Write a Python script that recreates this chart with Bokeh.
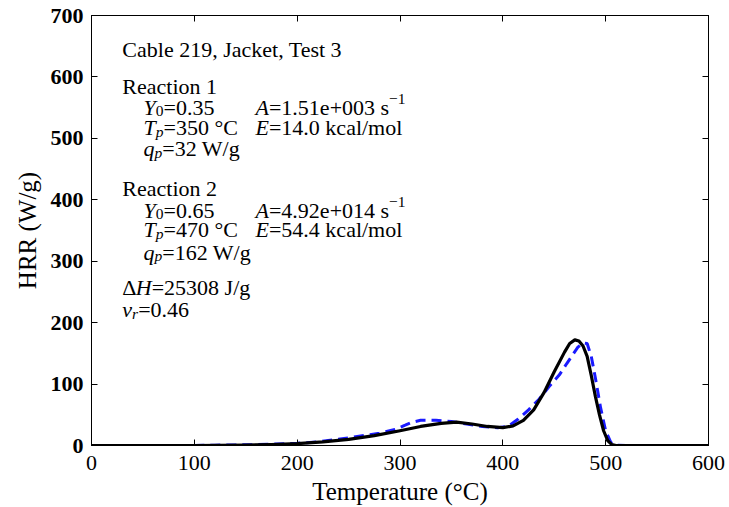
from bokeh.plotting import figure
from bokeh.models import Range1d, FixedTicker, LinearAxis, ColumnDataSource
from bokeh.embed import file_html
from bokeh.resources import INLINE
from bokeh.core.properties import value

# ---------------- data ----------------
model_temp = [0, 50, 100, 125, 150, 175, 200, 225, 250, 275, 300, 320, 340, 355, 370, 385,
              400, 410, 420, 430, 440, 450, 460, 465, 470, 474, 478, 482, 486, 490, 494,
              498, 502, 506, 510, 520, 550, 600]
model_hrr = [0, 0, 0, 0.2, 0.6, 1.5, 3, 6, 10, 16, 24, 31, 36, 38, 35, 31,
             29, 32, 41, 58, 86, 120, 152, 166, 172, 170, 162, 145, 114, 80, 50,
             24, 8, 1.5, 0, 0, 0, 0]

exp_temp = [100, 120, 140, 160, 180, 200, 220, 240, 260, 280, 295, 305, 312, 320, 335,
            350, 365, 380, 395, 405, 415, 425, 435, 445, 455, 462, 468, 473, 478, 482,
            486, 490, 495, 500, 505, 510, 520, 540, 560, 580, 600]
exp_hrr = [0, 0.5, 1, 1.5, 2.5, 3.5, 6, 10, 15, 20, 26, 33, 38, 41, 41,
           39, 35, 31, 29, 31, 43, 58, 75, 96, 115, 133, 148, 160, 167, 166,
           145, 110, 62, 24, 5, 0.5, 0, 0, 0, 0, 0]

x_ticks = [0, 100, 200, 300, 400, 500, 600]
y_ticks = [0, 100, 200, 300, 400, 500, 600, 700]

# ---------------- figure ----------------
FONT = "Liberation Serif"
p = figure(width=729, height=507, output_backend="svg", toolbar_location=None,
           x_range=Range1d(0, 600), y_range=Range1d(0, 700),
           min_border_left=91, min_border_right=21, min_border_top=15, min_border_bottom=61,
           x_axis_label="Temperature (°C)", y_axis_label="HRR (W/g)")
p.grid.visible = False
p.background_fill_color = "white"
p.border_fill_color = "white"
p.outline_line_color = "black"
p.outline_line_width = 1

for ax, ticks in ((p.xaxis[0], x_ticks), (p.yaxis[0], y_ticks)):
    ax.ticker = FixedTicker(ticks=ticks)
    ax.major_tick_in = 6
    ax.major_tick_out = 0
    ax.minor_tick_in = 0
    ax.minor_tick_out = 0
    ax.axis_line_color = "black"
    ax.major_tick_line_color = "black"
    ax.major_label_text_font = FONT
    ax.major_label_text_color = "black"
    ax.major_label_text_font_size = "22px"
    ax.axis_label_text_font = FONT
    ax.axis_label_text_font_size = "25px"
    ax.axis_label_text_font_style = "normal"
    ax.axis_label_text_color = "black"

p.yaxis[0].major_label_text_font_style = "bold"
p.yaxis[0].major_label_standoff = 8
p.yaxis[0].axis_label_standoff = 7
p.xaxis[0].major_label_standoff = 10
p.xaxis[0].axis_label_standoff = 5

for ticks, loc in ((x_ticks, "above"), (y_ticks, "right")):
    ax = LinearAxis(ticker=FixedTicker(ticks=ticks),
                    major_label_overrides={t: "" for t in ticks},
                    major_label_text_font_size="0px", major_label_standoff=0,
                    major_tick_in=6, major_tick_out=0, minor_tick_in=0, minor_tick_out=0,
                    axis_line_color="black", major_tick_line_color="black")
    p.add_layout(ax, loc)

# ---------------- curves ----------------
p.line(exp_temp, exp_hrr, line_color="#1a1aff", line_width=3, line_dash="10 6")
p.line(model_temp, model_hrr, line_color="black", line_width=3.2, line_join="round")

# ---------------- annotation text ----------------
FS, SS = 22, 15.5
XPX, YPX = 617 / 600, 431 / 700
REG = {' ': 250, '.': 250, ',': 250, '=': 564, '+': 564, '−': 564, '/': 278, '°': 400,
       'C': 667, 'W': 944, 'J': 389, 'R': 667, 'T': 611, 'a': 444, 'b': 500, 'c': 444,
       'e': 444, 'g': 500, 'i': 278, 'k': 500, 'l': 278, 'm': 778, 'n': 500, 'o': 500,
       's': 389, 't': 278, 'Δ': 612}
ITA = {'Y': 556, 'T': 556, 'q': 500, 'p': 500, 'A': 611, 'E': 611, 'H': 722, 'ν': 444,
       'r': 389}


def tw(s, size, italic):
    table = ITA if italic else REG
    return sum(table.get(c, 500) for c in s) * size / 1000.0


kinds = {'n': (FS, 'normal', 0), 'i': (FS, 'italic', 0), 'b': (SS, 'normal', -4),
         'bi': (SS, 'italic', -4), 'u': (SS, 'normal', 8)}

C0, C1, C2 = 30, 50.6, 159.5
rows = [
    (C0, 645, [("Cable 219, Jacket, Test 3", 'n')]),
    (C0, 585, [("Reaction 1", 'n')]),
    (C1, 551, [("Y", 'i'), ("0", 'b'), ("=0.35", 'n')]),
    (C2, 551, [("A", 'i'), ("=1.51e+003 s", 'n'), ("−1", 'u')]),
    (C1, 518, [("T", 'i'), ("p", 'bi'), ("=350 °C", 'n')]),
    (C2, 518, [("E", 'i'), ("=14.0 kcal/mol", 'n')]),
    (C1, 484, [("q", 'i'), ("p", 'bi'), ("=32 W/g", 'n')]),
    (C0, 419, [("Reaction 2", 'n')]),
    (C1, 383, [("Y", 'i'), ("0", 'b'), ("=0.65", 'n')]),
    (C2, 383, [("A", 'i'), ("=4.92e+014 s", 'n'), ("−1", 'u')]),
    (C1, 351, [("T", 'i'), ("p", 'bi'), ("=470 °C", 'n')]),
    (C2, 351, [("E", 'i'), ("=54.4 kcal/mol", 'n')]),
    (C1, 315, [("q", 'i'), ("p", 'bi'), ("=162 W/g", 'n')]),
    (C0, 257, [("Δ", 'n'), ("H", 'i'), ("=25308 J/g", 'n')]),
    (C0, 222, [("ν", 'i'), ("r", 'bi'), ("=0.46", 'n')]),
]

buckets = {k: dict(x=[], y=[], text=[]) for k in kinds}
for x0, y0, segs in rows:
    off = 0.0
    for s, k in segs:
        size, style, dy = kinds[k]
        buckets[k]['x'].append(x0 + off / XPX)
        buckets[k]['y'].append(y0 + dy / YPX)
        buckets[k]['text'].append(s)
        off += tw(s, size, style == 'italic')

for k, (size, style, dy) in kinds.items():
    src = ColumnDataSource(buckets[k])
    p.text(x='x', y='y', text='text', source=src, text_font=value(FONT),
           text_font_size=value(f"{size}px"), text_font_style=value(style),
           text_color="black", text_baseline="alphabetic", text_align="left")

open("out.html", "w").write(file_html(p, INLINE))
